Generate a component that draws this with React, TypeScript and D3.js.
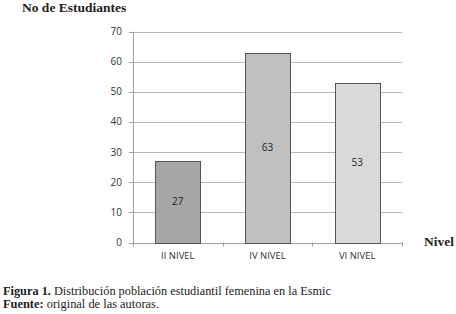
import React from "react";
import * as d3 from "d3";

const categories = ["II NIVEL", "IV NIVEL", "VI NIVEL"];
const values = [27, 63, 53];
const barColors = ["#a6a6a6", "#c0c0c0", "#d9d9d9"];
const yTicks = [0, 10, 20, 30, 40, 50, 60, 70];

export default function App() {
  const W = 456, H = 314;
  const left = 133, right = 402, top = 31.5, bottom = 242.5;
  const x = d3.scaleBand<string>().domain(categories).range([left, right]).paddingInner(0.5).paddingOuter(0.25);
  const xb = d3.scaleBand<string>().domain(categories).range([left, right]);
  const y = d3.scaleLinear().domain([0, 70]).range([bottom, top]);
  const sans = "'Open Sans', 'DejaVu Sans', sans-serif";
  const serif = "'Liberation Serif', 'DejaVu Serif', serif";
  const tickPos = [...categories.map((c) => xb(c)!), right];
  return (
    <svg width={W} height={H} style={{ position: "absolute", left: 0, top: 0, background: "#fff" }}>
      <rect width={W} height={H} fill="#fff" />
      {yTicks.filter((t) => t > 0).map((t) => (
        <line key={t} x1={left} x2={right} y1={Math.round(y(t)) + 0.5} y2={Math.round(y(t)) + 0.5} stroke="#b8b8b8" strokeWidth={1} />
      ))}
      {yTicks.map((t) => (
        <g key={"yt" + t}>
          <line x1={left - 4} x2={left} y1={Math.round(y(t)) + 0.5} y2={Math.round(y(t)) + 0.5} stroke="#a0a0a0" />
          <text x={122} y={y(t)} dy="0.35em" textAnchor="end" fontFamily={sans} fontSize={10} fill="#333">{t}</text>
        </g>
      ))}
      <line x1={left + 0.5} x2={left + 0.5} y1={top} y2={bottom + 3} stroke="#a0a0a0" />
      <line x1={left} x2={right} y1={Math.round(y(0)) + 0.5} y2={Math.round(y(0)) + 0.5} stroke="#a0a0a0" />
      {tickPos.map((p, i) => (
        <line key={"xt" + i} x1={Math.round(p) + 0.5} x2={Math.round(p) + 0.5} y1={bottom} y2={bottom + 4} stroke="#a0a0a0" />
      ))}
      {categories.map((c, i) => (
        <g key={c}>
          <rect x={Math.round(x(c)!) + 0.5} y={Math.round(y(values[i])) + 0.5} width={Math.round(x.bandwidth())} height={Math.round(y(0)) - Math.round(y(values[i]))} fill={barColors[i]} stroke="#555" strokeWidth={1} />
          <text x={x(c)! + x.bandwidth() / 2} y={(y(values[i]) + y(0)) / 2} dy="0.35em" textAnchor="middle" fontFamily={sans} fontSize={10} fill="#222">{values[i]}</text>
          <text x={xb(c)! + xb.bandwidth() / 2} y={256} dy="0.35em" textAnchor="middle" fontFamily={sans} fontSize={9.5} fill="#333">{c}</text>
        </g>
      ))}
      <text x={22} y={12} fontFamily={serif} fontWeight="bold" fontSize={13.5} fill="#222">No de Estudiantes</text>
      <text x={424} y={246} fontFamily={serif} fontWeight="bold" fontSize={13.5} fill="#222">Nivel</text>
      <text x={3} y={295} fontFamily={serif} fontSize={12.2} fill="#222" textLength={328} lengthAdjust="spacingAndGlyphs">
        <tspan fontWeight="bold">Figura 1.</tspan> Distribución población estudiantil femenina en la Esmic
      </text>
      <text x={3} y={307.5} fontFamily={serif} fontSize={12.2} fill="#222" textLength={156} lengthAdjust="spacingAndGlyphs">
        <tspan fontWeight="bold">Fuente:</tspan> original de las autoras.
      </text>
    </svg>
  );
}
